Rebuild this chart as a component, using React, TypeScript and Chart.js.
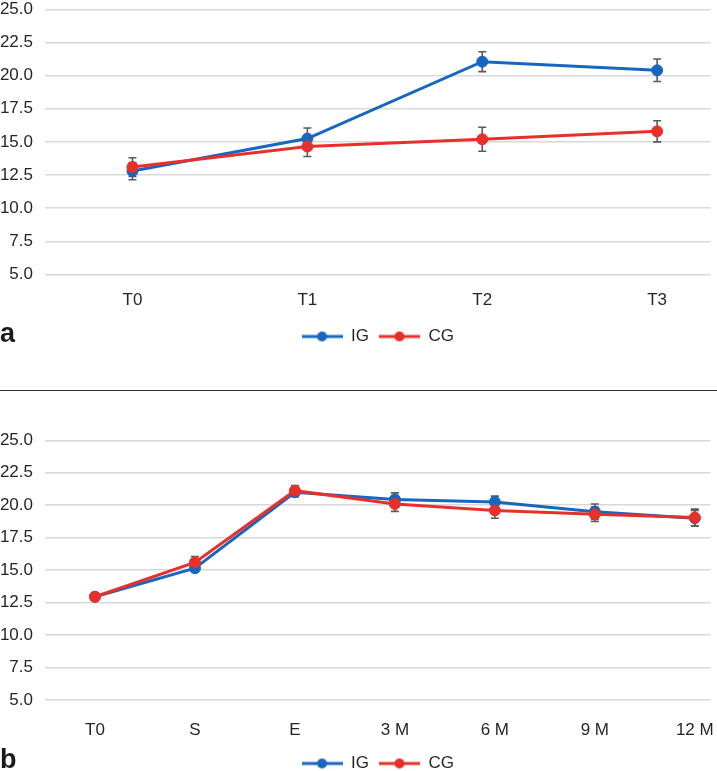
import React, { useEffect, useRef } from 'react';
import { Chart, registerables } from 'chart.js';

Chart.register(...registerables);

const FONT = "'Liberation Sans', Arial, sans-serif";

// ---- Panel a ----
const catsA = ['T0', 'T1', 'T2', 'T3'];
const igA = [12.8, 15.25, 21.05, 20.4];
const igErrA = [0.65, 0.8, 0.75, 0.85];
const cgA = [13.1, 14.65, 15.2, 15.8];
const cgErrA = [0.7, 0.75, 0.9, 0.8];

// ---- Panel b ----
const catsB = ['T0', 'S', 'E', '3 M', '6 M', '9 M', '12 M'];
const igB = [12.95, 15.15, 21.0, 20.45, 20.25, 19.5, 19.0];
const igErrB = [0.25, 0.3, 0.35, 0.5, 0.45, 0.6, 0.6];
const cgB = [12.95, 15.6, 21.12, 20.1, 19.6, 19.3, 19.05];
const cgErrB = [0.25, 0.45, 0.4, 0.57, 0.6, 0.55, 0.65];

const yTickValues = [5.0, 7.5, 10.0, 12.5, 15.0, 17.5, 20.0, 22.5, 25.0];
const seriesNames = ['IG', 'CG'];

const BLUE = '#1766bf';
const RED = '#e8302a';
const ERR = '#5a5a5a';
const TEXT = '#262626';

function makeIcon(color: string) {
  const c = document.createElement('canvas');
  c.width = 41;
  c.height = 12;
  const ctx = c.getContext('2d')!;
  ctx.strokeStyle = color;
  ctx.lineWidth = 3;
  ctx.beginPath();
  ctx.moveTo(0, 6);
  ctx.lineTo(41, 6);
  ctx.stroke();
  ctx.fillStyle = color;
  ctx.beginPath();
  ctx.arc(20.5, 6, 5, 0, Math.PI * 2);
  ctx.fill();
  return c;
}

const errorBarsPlugin = {
  id: 'errorBars',
  beforeDatasetsDraw(chart: any) {
    const ctx = chart.ctx;
    const y = chart.scales.y;
    ctx.save();
    ctx.strokeStyle = ERR;
    ctx.lineWidth = 1.6;
    chart.data.datasets.forEach((ds: any, i: number) => {
      const meta = chart.getDatasetMeta(i);
      const errs: number[] = ds.errors || [];
      meta.data.forEach((pt: any, j: number) => {
        const v = ds.data[j].y;
        const e = errs[j];
        if (e == null) return;
        const x = pt.x;
        const yt = y.getPixelForValue(v + e);
        const yb = y.getPixelForValue(v - e);
        ctx.beginPath();
        ctx.moveTo(x, yt);
        ctx.lineTo(x, yb);
        ctx.moveTo(x - 4, yt);
        ctx.lineTo(x + 4, yt);
        ctx.moveTo(x - 4, yb);
        ctx.lineTo(x + 4, yb);
        ctx.stroke();
      });
    });
    ctx.restore();
  },
};

const panelLabelPlugin = {
  id: 'panelLabel',
  afterDraw(chart: any, _args: any, opts: any) {
    if (!opts || !opts.text) return;
    const ctx = chart.ctx;
    ctx.save();
    ctx.fillStyle = '#1a1a1a';
    ctx.font = `bold 27px ${FONT}`;
    ctx.textBaseline = 'alphabetic';
    ctx.textAlign = 'left';
    ctx.fillText(opts.text, 0, opts.y);
    ctx.restore();
  },
};

type PanelProps = {
  cats: string[];
  ig: number[];
  igErr: number[];
  cg: number[];
  cgErr: number[];
  xMax: number;
  tickLen: number;
  xAxisH: number;
  label: string;
  labelY: number;
  top: number;
  height: number;
};

function Panel(p: PanelProps) {
  const ref = useRef<HTMLCanvasElement | null>(null);
  useEffect(() => {
    if (!ref.current) return;
    const icons = [makeIcon(BLUE), makeIcon(RED)];
    const chart = new Chart(ref.current, {
      type: 'line',
      data: {
        datasets: [
          {
            label: seriesNames[0],
            data: p.ig.map((v, i) => ({ x: i, y: v })),
            errors: p.igErr,
            borderColor: BLUE,
            backgroundColor: BLUE,
            pointBackgroundColor: BLUE,
            pointBorderColor: BLUE,
            borderWidth: 3,
            pointRadius: 5.5,
            pointBorderWidth: 1,
            pointStyle: 'circle',
            tension: 0,
            order: 1,
          } as any,
          {
            label: seriesNames[1],
            data: p.cg.map((v, i) => ({ x: i, y: v })),
            errors: p.cgErr,
            borderColor: RED,
            backgroundColor: RED,
            pointBackgroundColor: RED,
            pointBorderColor: RED,
            borderWidth: 3,
            pointRadius: 5.5,
            pointBorderWidth: 1,
            pointStyle: 'circle',
            tension: 0,
            order: 0,
          } as any,
        ],
      },
      options: {
        animation: false,
        responsive: true,
        maintainAspectRatio: false,
        events: [],
        layout: { padding: { top: 9.3, right: 5, left: 0, bottom: 0 } },
        scales: {
          x: {
            type: 'linear',
            min: -0.5,
            max: p.xMax,
            bounds: 'data',
            grid: { display: false, drawTicks: true, tickLength: p.tickLen },
            border: { display: false },
            afterBuildTicks: (axis: any) => {
              axis.ticks = p.cats.map((_, i) => ({ value: i }));
            },
            afterFit: (axis: any) => {
              axis.height = p.xAxisH;
            },
            ticks: {
              padding: 0,
              autoSkip: false,
              maxRotation: 0,
              color: TEXT,
              font: { family: FONT, size: 17, lineHeight: 1.2 },
              callback: (v: any) => p.cats[Math.round(Number(v))] ?? '',
            },
          },
          y: {
            type: 'linear',
            min: yTickValues[0],
            max: yTickValues[yTickValues.length - 1],
            grid: {
              color: '#d9d9d9',
              lineWidth: 1.6,
              drawTicks: true,
              tickLength: 12,
              tickColor: 'rgba(0,0,0,0)',
            },
            border: { display: false },
            afterBuildTicks: (axis: any) => {
              axis.ticks = yTickValues.map((v) => ({ value: v }));
            },
            afterFit: (axis: any) => {
              axis.width = 45;
            },
            ticks: {
              padding: 0,
              color: TEXT,
              font: { family: FONT, size: 17, lineHeight: 0.9 },
              callback: (v: any) => Number(v).toFixed(1),
            },
          },
        },
        plugins: {
          tooltip: { enabled: false },
          legend: {
            display: true,
            position: 'bottom',
            fullSize: false,
            labels: {
              usePointStyle: true,
              pointStyleWidth: 41,
              padding: 10,
              color: TEXT,
              font: { family: FONT, size: 17 },
              generateLabels: (c: any) =>
                (Chart.defaults.plugins.legend.labels as any)
                  .generateLabels(c)
                  .map((it: any) => ({ ...it, pointStyle: icons[it.datasetIndex] })),
              sort: (a: any, b: any) => a.datasetIndex - b.datasetIndex,
            },
          },
          panelLabel: { text: p.label, y: p.labelY },
        } as any,
      } as any,
      plugins: [errorBarsPlugin, panelLabelPlugin],
    });
    return () => chart.destroy();
  }, []);
  return (
    <div style={{ position: 'absolute', left: 0, top: p.top, width: 717, height: p.height }}>
      <canvas ref={ref} />
    </div>
  );
}

export default function App() {
  return (
    <div
      style={{
        position: 'absolute',
        left: 0,
        top: 0,
        width: 717,
        height: 771,
        overflow: 'hidden',
        background: '#ffffff',
      }}
    >
      <Panel
        cats={catsA}
        ig={igA}
        igErr={igErrA}
        cg={cgA}
        cgErr={cgErrA}
        xMax={3.305}
        tickLen={15.3}
        xAxisH={43.5}
        label="a"
        labelY={342}
        top={0}
        height={355}
      />
      <div style={{ position: 'absolute', left: 0, top: 390, width: 717, height: 1, background: '#333' }} />
      <Panel
        cats={catsB}
        ig={igB}
        igErr={igErrB}
        cg={cgB}
        cgErr={cgErrB}
        xMax={6.157}
        tickLen={20.5}
        xAxisH={45}
        label="b"
        labelY={337}
        top={431}
        height={351}
      />
    </div>
  );
}
